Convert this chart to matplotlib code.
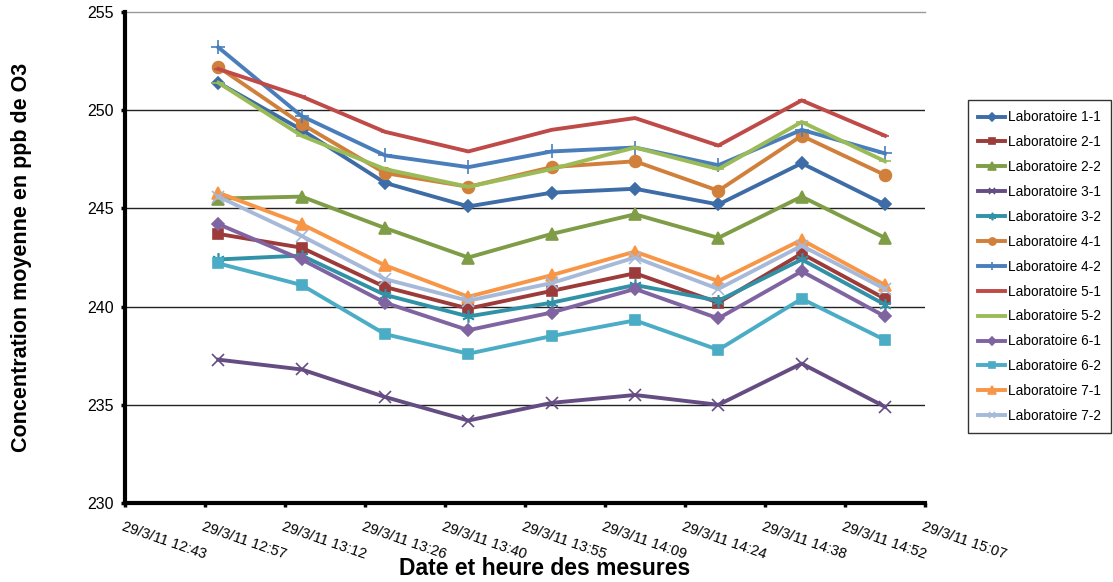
import numpy as np
import matplotlib.pyplot as plt

plt.rcParams['font.family'] = ['Liberation Sans', 'DejaVu Sans']

# heures des mesures
heures = ['13:00', '13:15', '13:30', '13:45', '14:00', '14:15', '14:30', '14:45', '15:00']

tick_labels = ['29/3/11 12:43', '29/3/11 12:57', '29/3/11 13:12', '29/3/11 13:26',
               '29/3/11 13:40', '29/3/11 13:55', '29/3/11 14:09', '29/3/11 14:24',
               '29/3/11 14:38', '29/3/11 14:52', '29/3/11 15:07']

labos = ['Laboratoire 1-1', 'Laboratoire 2-1', 'Laboratoire 2-2', 'Laboratoire 3-1',
         'Laboratoire 3-2', 'Laboratoire 4-1', 'Laboratoire 4-2', 'Laboratoire 5-1',
         'Laboratoire 5-2', 'Laboratoire 6-1', 'Laboratoire 6-2', 'Laboratoire 7-1',
         'Laboratoire 7-2']

lab_1_1 = [251.4, 249.0, 246.3, 245.1, 245.8, 246.0, 245.2, 247.3, 245.2]
lab_2_1 = [243.7, 243.0, 241.0, 239.9, 240.8, 241.7, 240.2, 242.7, 240.4]
lab_2_2 = [245.5, 245.6, 244.0, 242.5, 243.7, 244.7, 243.5, 245.6, 243.5]
lab_3_1 = [237.3, 236.8, 235.4, 234.2, 235.1, 235.5, 235.0, 237.1, 234.9]
lab_3_2 = [242.4, 242.6, 240.6, 239.5, 240.2, 241.1, 240.3, 242.4, 240.1]
lab_4_1 = [252.2, 249.3, 246.8, 246.1, 247.1, 247.4, 245.9, 248.7, 246.7]
lab_4_2 = [253.2, 249.7, 247.7, 247.1, 247.9, 248.1, 247.2, 249.0, 247.8]
lab_5_1 = [252.1, 250.7, 248.9, 247.9, 249.0, 249.6, 248.2, 250.5, 248.7]
lab_5_2 = [251.4, 248.7, 247.0, 246.1, 247.0, 248.1, 247.0, 249.4, 247.4]
lab_6_1 = [244.2, 242.4, 240.2, 238.8, 239.7, 240.9, 239.4, 241.8, 239.5]
lab_6_2 = [242.2, 241.1, 238.6, 237.6, 238.5, 239.3, 237.8, 240.4, 238.3]
lab_7_1 = [245.8, 244.2, 242.1, 240.5, 241.6, 242.8, 241.3, 243.4, 241.1]
lab_7_2 = [245.6, 243.6, 241.4, 240.3, 241.2, 242.5, 240.9, 243.1, 240.9]

series = [lab_1_1, lab_2_1, lab_2_2, lab_3_1, lab_3_2, lab_4_1, lab_4_2,
          lab_5_1, lab_5_2, lab_6_1, lab_6_2, lab_7_1, lab_7_2]

colors = ['#3D6CA6', '#9C3B39', '#7F9C46', '#654D83', '#3192A7', '#D0803A', '#4A7EBB',
          '#BE4B48', '#9BBB59', '#8064A2', '#4BACC6', '#F79646', '#A6B9D9']
markers = ['D', 's', '^', 'x', (6, 2, 0), 'o', '+', '_', '_', 'D', 's', '^', 'x']
msizes = [6.5, 7.5, 8.5, 8, 9, 8.5, 10, 6, 9, 6.5, 7.5, 8.5, 8]


def to_min(h):
    hh, mm = h.split(':')
    return int(hh) * 60 + int(mm)


x = np.array([to_min(h) for h in heures])
x0 = 0.53 * 1440  # 12:43.2
x_ticks = x0 + 14.4 * np.arange(len(tick_labels))

fig = plt.figure(figsize=(11.13, 5.82), dpi=100)
ax = fig.add_axes([0.1123, 0.1357, 0.7188, 0.8437])

for vals, lab, c, m, ms in zip(series, labos, colors, markers, msizes):
    ax.plot(x, vals, color=c, lw=2.8, marker=m, markersize=ms,
            markeredgecolor=c, markerfacecolor=c, markeredgewidth=1.2, label=lab)

ax.set_xlim(x_ticks[0], x_ticks[-1])
ax.set_ylim(230, 255)
ax.set_yticks(np.arange(230, 256, 5))
ax.set_xticks(x_ticks)
ax.set_xticklabels(tick_labels, rotation=-19, ha='left', va='top',
                   rotation_mode='anchor', fontsize=10.5)
ax.tick_params(axis='y', labelsize=11.5, direction='out', length=3, width=2.5, pad=5)
ax.tick_params(axis='x', direction='out', length=3, width=2.5, pad=9)

for yv in [235, 240, 245, 250]:
    ax.axhline(yv, color='#222222', lw=1.0, zorder=0)
ax.axhline(255, color='#999999', lw=1.0, zorder=0, clip_on=False)

for s in ['top', 'right']:
    ax.spines[s].set_visible(False)
for s in ['left', 'bottom']:
    ax.spines[s].set_linewidth(3)
    ax.spines[s].set_color('black')

fig.text(0.019, 0.557, 'Concentration moyenne en ppb de O3', fontsize=15.5,
         fontweight='bold', rotation=90, ha='center', va='center')
fig.text(0.489, 0.024, 'Date et heure des mesures', fontsize=16.5, fontweight='bold',
         ha='center', va='center')

leg = fig.legend(loc='upper left', bbox_to_anchor=(0.8697, 0.828), fontsize=9.8,
                 frameon=True, fancybox=False, edgecolor='black', labelspacing=0.8,
                 handlelength=2.0, handletextpad=0.2, borderpad=0.75, borderaxespad=0,
                 markerscale=0.6)
leg.get_frame().set_linewidth(1.0)

fig.savefig('out.png', dpi=100)
